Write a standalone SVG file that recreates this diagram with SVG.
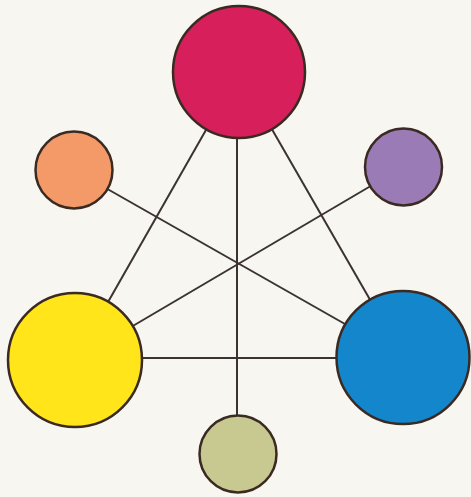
<svg xmlns="http://www.w3.org/2000/svg" width="471" height="497" viewBox="0 0 471 497">
<style>
.n{stroke:#3a2a22;stroke-width:2.5}
.c line{stroke:#3b3232;stroke-width:2}
</style>
<rect width="471" height="497" fill="#f7f6f0"/>
<g class="c" id="connectors">
<line x1="239" y1="72" x2="75" y2="360"/>
<line x1="239" y1="72" x2="403" y2="357"/>
<line x1="237" y1="72" x2="237" y2="454"/>
<line x1="75" y1="358" x2="403" y2="358"/>
<line x1="74" y1="170" x2="403" y2="357"/>
<line x1="403" y1="167" x2="75" y2="360"/>
</g>
<g id="magenta"><circle class="n" cx="239" cy="72" r="66" fill="#d61f5b"/></g>
<g id="orange"><circle class="n" cx="74" cy="170" r="38.5" fill="#f49a68"/></g>
<g id="purple"><circle class="n" cx="403.5" cy="167" r="38.5" fill="#9b7bb6"/></g>
<g id="yellow"><circle class="n" cx="75" cy="360" r="67" fill="#ffe51a"/></g>
<g id="blue"><circle class="n" cx="403" cy="357.5" r="66.5" fill="#1386cc"/></g>
<g id="green"><circle class="n" cx="238" cy="454" r="38.5" fill="#c8c990"/></g>
</svg>
